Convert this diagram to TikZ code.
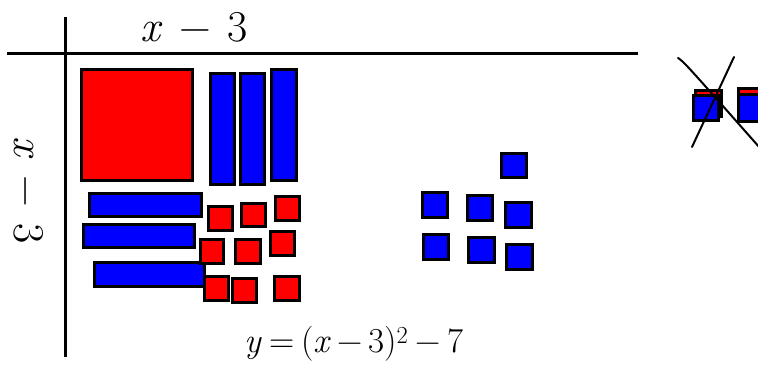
\documentclass[tikz,border=0pt]{standalone}
\usepackage{fontspec}
\newcommand{\mysp}{\hspace{0.2em}}
\newcommand{\widesp}{\hspace{0.38em}}
\begin{document}
\begin{tikzpicture}[x=1pt,y=-1pt,
  tile/.style={draw=black,line width=3.2pt},
  rt/.style={tile,fill=red},
  bt/.style={tile,fill=blue},
  axisline/.style={line width=3pt},
  crossline/.style={line width=2pt,line cap=round},
  hand/.style={font=\fontsize{44}{48}\selectfont,inner sep=0pt},
  eqfont/.style={font=\fontsize{35}{38}\selectfont,inner sep=0pt}]
\clip (0,0) rectangle (758,369);
\useasboundingbox (0,0) rectangle (758,369);
% axes
\coordinate (h1) at (7,54);
\coordinate (h2) at (638,54);
\coordinate (v1) at (65,17);
\coordinate (v2) at (65,357);
\draw[axisline] (h1) -- (h2);
\draw[axisline] (v1) -- (v2);
% labels
\node[hand] (top) at (194,27) {\textit{x}\widesp−\widesp3};
\node[hand,rotate=-90] (left) at (29,190) {\textit{x}\widesp−\widesp3};
\node[eqfont] (eq) at (354,344) {\textit{y}\mysp=\mysp(\textit{x}\,−\,3)\textsuperscript{2}\mysp−\mysp7};
% big square and long tiles
\draw[rt] (81.5,69.5) rectangle (192.5,180.5);
\draw[bt] (210.5,73.5) rectangle (234.5,184.5);
\draw[bt] (240.5,73.5) rectangle (264.5,184.5);
\draw[bt] (271.5,69.5) rectangle (296.5,180.5);
\draw[bt] (89.5,193.5) rectangle (201.5,216.5);
\draw[bt] (83.5,224.5) rectangle (194.5,247.5);
\draw[bt] (94.5,262.5) rectangle (204.5,286.5);
% small red tiles
\draw[rt] (208.5,206.5) rectangle (232.5,230.5);
\draw[rt] (241.5,203.5) rectangle (265.5,226.5);
\draw[rt] (275.5,196.5) rectangle (299.5,220.5);
\draw[rt] (200.5,239.5) rectangle (223.5,263.5);
\draw[rt] (235.5,239.5) rectangle (260.5,263.5);
\draw[rt] (270.5,231.5) rectangle (294.5,255.5);
\draw[rt] (204.5,276.5) rectangle (228.5,300.5);
\draw[rt] (232.5,278.5) rectangle (256.5,302.5);
\draw[rt] (274.5,276.5) rectangle (299.5,300.5);
% small blue tiles
\draw[bt] (501.5,153.5) rectangle (526.5,177.5);
\draw[bt] (422.5,192.5) rectangle (447.5,217.5);
\draw[bt] (467.5,195.5) rectangle (492.5,220.5);
\draw[bt] (505.5,202.5) rectangle (531.5,227.5);
\draw[bt] (423.5,234.5) rectangle (448.5,259.5);
\draw[bt] (468.5,237.5) rectangle (494.5,262.5);
\draw[bt] (506.5,244.5) rectangle (532.5,269.5);
% crossed-out tiles
\draw[rt] (695.5,90.5) rectangle (721.5,116.5);
\draw[bt] (693.5,95.5) rectangle (718.5,120.5);
\draw[rt] (738.5,88.5) rectangle (772,116);
\draw[bt] (738.5,94.5) rectangle (772,121.5);
\coordinate (c1a) at (678,58);
\coordinate (c1b) at (760,148);
\coordinate (c2a) at (734,57);
\coordinate (c2b) at (692,147);
\draw[crossline] (c1a) .. controls (684,62) .. (c1b);
\draw[crossline] (c2a) -- (c2b);
\end{tikzpicture}
\end{document}
